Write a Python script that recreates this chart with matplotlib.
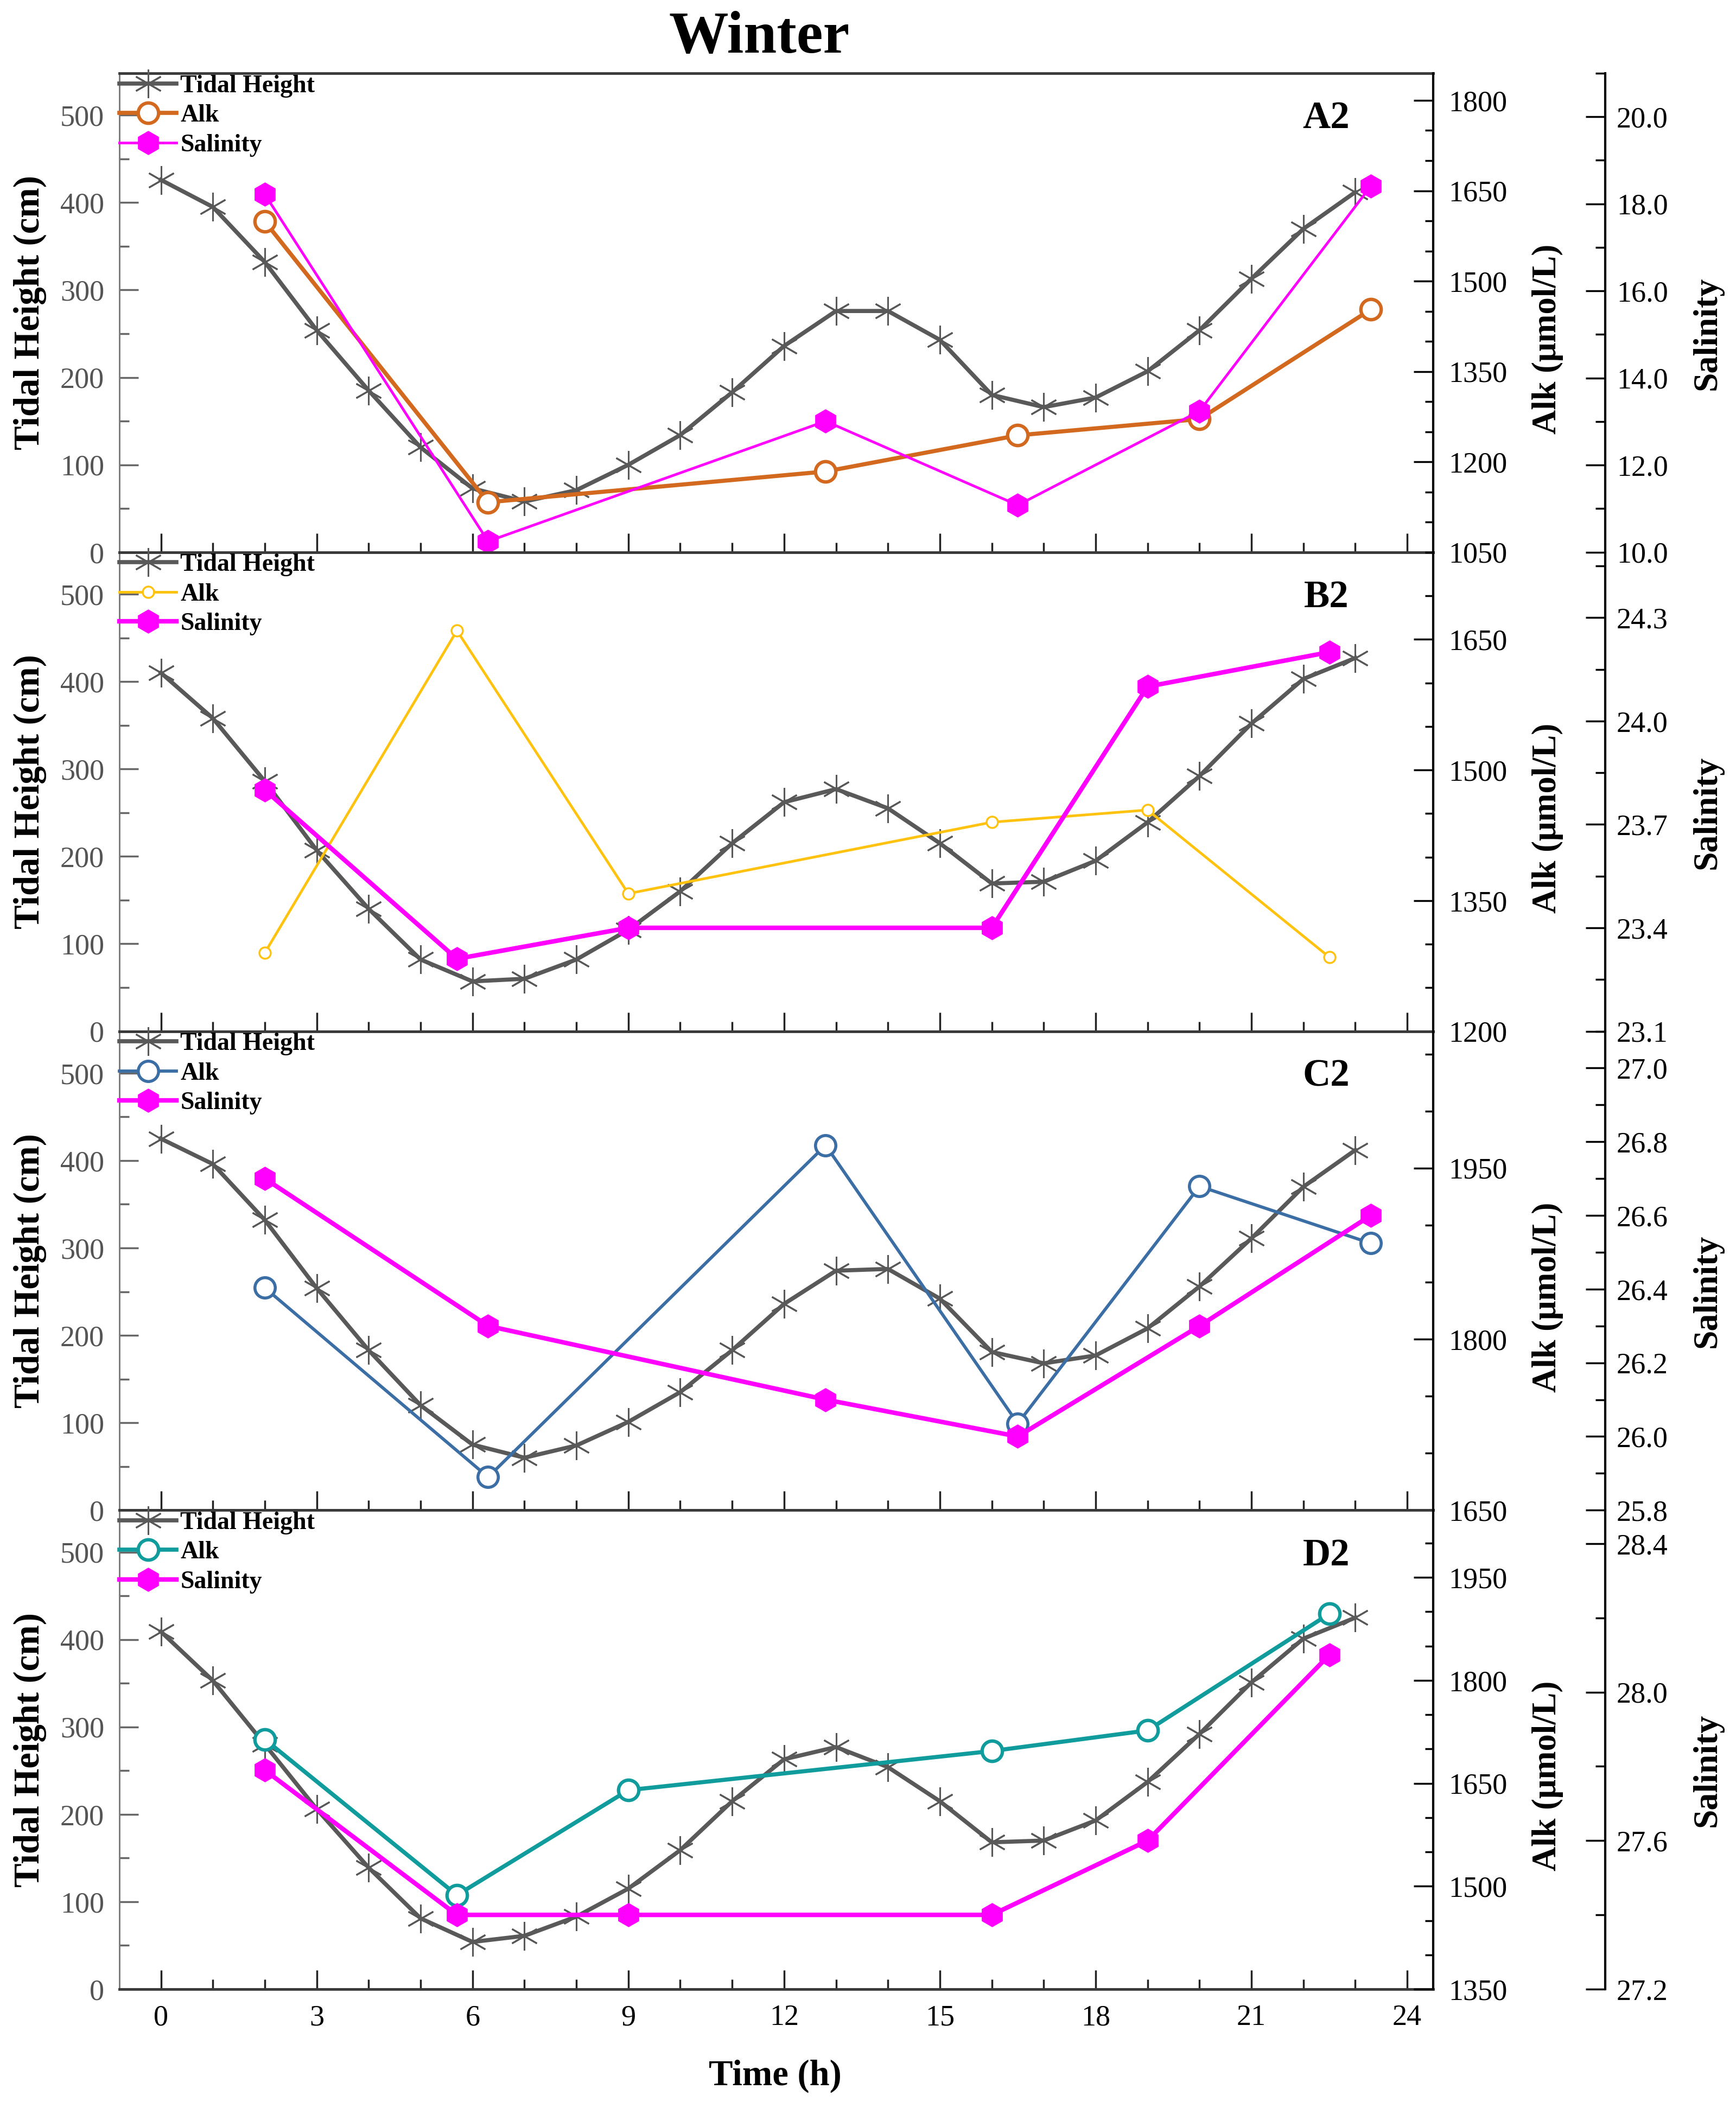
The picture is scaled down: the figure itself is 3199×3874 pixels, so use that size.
import matplotlib
matplotlib.use('Agg')
import matplotlib.pyplot as plt
from matplotlib.ticker import MultipleLocator, FormatStrFormatter

plt.rcParams['font.family'] = ['Liberation Serif', 'DejaVu Serif']

# ---------------- data ----------------
hours = list(range(24))
times_AC = [2, 6.3, 12.8, 16.5, 20, 23.3]
times_BD = [2, 5.7, 9, 16, 19, 22.5]

tide_A2 = [426, 395, 332, 254, 185, 120, 73, 58, 71, 100, 134, 183,
           236, 276, 276, 243, 180, 166, 177, 207, 254, 313, 370, 412]
tide_B2 = [410, 358, 286, 207, 140, 82, 57, 60, 82, 116, 160, 215,
           262, 277, 255, 215, 169, 171, 195, 239, 292, 352, 403, 427]
tide_C2 = [425, 396, 332, 254, 183, 120, 75, 60, 74, 101, 135, 183,
           236, 274, 276, 242, 181, 168, 177, 208, 256, 311, 370, 412]
tide_D2 = [409, 353, 280, 206, 139, 81, 54, 61, 83, 115, 159, 215,
           263, 277, 254, 215, 168, 170, 193, 237, 292, 351, 401, 425]

alk_A2 = [1599, 1133, 1184, 1244, 1271, 1453]
alk_B2 = [1290, 1660, 1358, 1440, 1454, 1285]
alk_C2 = [1845, 1679, 1970, 1726, 1934, 1884]
alk_D2 = [1714, 1487, 1640, 1697, 1727, 1897]

sal_A2 = [18.22, 10.25, 13.01, 11.08, 13.24, 18.41]
sal_B2 = [23.80, 23.31, 23.40, 23.40, 24.10, 24.20]
sal_C2 = [26.70, 26.30, 26.10, 26.00, 26.30, 26.60]
sal_D2 = [27.79, 27.40, 27.40, 27.40, 27.60, 28.10]

panel_names = ['A2', 'B2', 'C2', 'D2']
legend_labels = ['Tidal Height', 'Alk', 'Salinity']
x_ticks = [0, 3, 6, 9, 12, 15, 18, 21, 24]

# ---------------- styles ----------------
GRAY = '#595959'
MAG = '#ff00ff'
panels = [
    dict(name='A2', tide=tide_A2, t=times_AC, alk=alk_A2, sal=sal_A2,
         acol='#d2691e', ams=27, amew=4.5, alw=5.5, slw=3.5,
         alim=(1050, 1845), slim=(10, 21.0), smaj=2.0, smin=1.0),
    dict(name='B2', tide=tide_B2, t=times_BD, alk=alk_B2, sal=sal_B2,
         acol='#ffc20e', ams=15, amew=2.5, alw=3.5, slw=6,
         alim=(1200, 1750), slim=(23.1, 24.49), smaj=0.3, smin=0.15),
    dict(name='C2', tide=tide_C2, t=times_AC, alk=alk_C2, sal=sal_C2,
         acol='#3b6ea5', ams=27, amew=4, alw=4.2, slw=6,
         alim=(1650, 2070), slim=(25.8, 27.1), smaj=0.2, smin=0.1),
    dict(name='D2', tide=tide_D2, t=times_BD, alk=alk_D2, sal=sal_D2,
         acol='#109c9c', ams=27, amew=4.5, alw=5.5, slw=6,
         alim=(1350, 2048), slim=(27.2, 28.49), smaj=0.4, smin=0.2),
]

W, H = 3199, 3874
fig = plt.figure(figsize=(W / 100, H / 100), dpi=100)
L = 220 / W
R = 2641 / W
top_px, bot_px = 135, 3666
ph = (bot_px - top_px) / 4

TICKFS = 39
for i, p in enumerate(panels):
    y0 = 1 - (top_px + (i + 1) * ph) / H
    ax = fig.add_axes([L, y0, R - L, ph / H])
    ax2 = ax.twinx()
    ax3 = ax.twinx()
    ax3.spines['right'].set_position(('axes', 1.131))

    l1, = ax.plot(hours, p['tide'], color=GRAY, lw=5.5, marker=(6, 2, 0),
                  ms=38, mew=2.2, mec=GRAY, zorder=3)
    l2, = ax2.plot(p['t'], p['alk'], color=p['acol'], lw=p['alw'], marker='o',
                   ms=p['ams'], mfc='white', mec=p['acol'], mew=p['amew'])
    l3, = ax3.plot(p['t'], p['sal'], color=MAG, lw=p['slw'], marker='h',
                   ms=31, mfc=MAG, mec=MAG)

    # x axis
    ax.set_xlim(-0.8, 24.5)
    ax.xaxis.set_major_locator(MultipleLocator(3))
    ax.xaxis.set_minor_locator(MultipleLocator(1))
    ax.tick_params(axis='x', which='major', direction='in', length=25, width=2.5,
                   color='#222222', labelsize=TICKFS, pad=20, top=False,
                   labelbottom=(i == 3))
    ax.tick_params(axis='x', which='minor', direction='in', length=13, width=2.5,
                   color='#222222', top=False)

    # left axis
    ax.set_ylim(0, 548)
    ax.yaxis.set_major_locator(MultipleLocator(100))
    ax.yaxis.set_minor_locator(MultipleLocator(50))
    ax.tick_params(axis='y', which='major', direction='in', length=25, width=2.5,
                   color='#666666', labelcolor='#555555', labelsize=TICKFS, pad=20)
    ax.tick_params(axis='y', which='minor', direction='in', length=13, width=2.5,
                   color='#666666')

    # alk axis
    ax2.set_ylim(*p['alim'])
    ax2.yaxis.set_major_locator(MultipleLocator(150))
    ax2.yaxis.set_minor_locator(MultipleLocator(50))
    ax2.yaxis.set_major_formatter(FormatStrFormatter('%d'))
    ax2.tick_params(axis='y', which='major', direction='in', length=26, width=2.5,
                    color='black', labelsize=TICKFS, pad=20)
    ax2.tick_params(axis='y', which='minor', direction='in', length=11, width=2.5,
                    color='black')

    # salinity axis
    ax3.set_ylim(*p['slim'])
    ax3.yaxis.set_major_locator(MultipleLocator(p['smaj']))
    ax3.yaxis.set_minor_locator(MultipleLocator(p['smin']))
    ax3.yaxis.set_major_formatter(FormatStrFormatter('%.1f'))
    ax3.tick_params(axis='y', which='major', direction='in', length=26, width=2.5,
                    color='black', labelsize=TICKFS, pad=15)
    ax3.tick_params(axis='y', which='minor', direction='in', length=13, width=2.5,
                    color='black')

    # spines
    for a in (ax2, ax3):
        for s in ('top', 'bottom', 'left'):
            a.spines[s].set_visible(False)
    ax3.spines['right'].set_linewidth(3)
    ax3.spines['right'].set_color('black')
    ax.spines['right'].set_visible(False)
    ax2.spines['right'].set_linewidth(3)
    ax2.spines['right'].set_color('black')
    ax.spines['left'].set_color('#777777')
    ax.spines['left'].set_linewidth(2)
    for s in ('top', 'bottom'):
        ax.spines[s].set_color('#3a3a3a')
        ax.spines[s].set_linewidth(3.5)

    # labels
    ax.text(-0.068, 0.5, 'Tidal Height (cm)', rotation=90, transform=ax.transAxes,
            ha='center', va='center', fontsize=48, fontweight='bold')
    ax.text(1.087, 0.445, 'Alk (\u03bcmol/L)', rotation=90, transform=ax.transAxes,
            ha='center', va='center', fontsize=45, fontweight='bold')
    ax.text(1.209, 0.457, 'Salinity', rotation=90, transform=ax.transAxes,
            ha='center', va='center', fontsize=46, fontweight='bold')
    ax3.text(0.9186, 0.905, panel_names[i], transform=ax.transAxes,
             ha='center', va='center', fontsize=51, fontweight='bold')

    leg = ax3.legend([l1, l2, l3], legend_labels, loc='upper left',
                     bbox_to_anchor=(0.0, 0.997), borderaxespad=0, borderpad=0,
                     frameon=False, prop={'size': 33, 'weight': 'bold'},
                     labelspacing=0.27, handlelength=2.3, handletextpad=0.15,
                     numpoints=1)

    if i == 3:
        ax.set_xticks(x_ticks)
        ax.set_xticklabels([str(v) for v in x_ticks])
        ax.text(0.499, -0.181, 'Time (h)', transform=ax.transAxes, ha='center',
                va='center', fontsize=48, fontweight='bold')

fig.text(0.4373, 1 - 97 / H, 'Winter', ha='center', va='baseline',
         fontsize=79, fontweight='bold')

fig.savefig('out.png', dpi=100)
